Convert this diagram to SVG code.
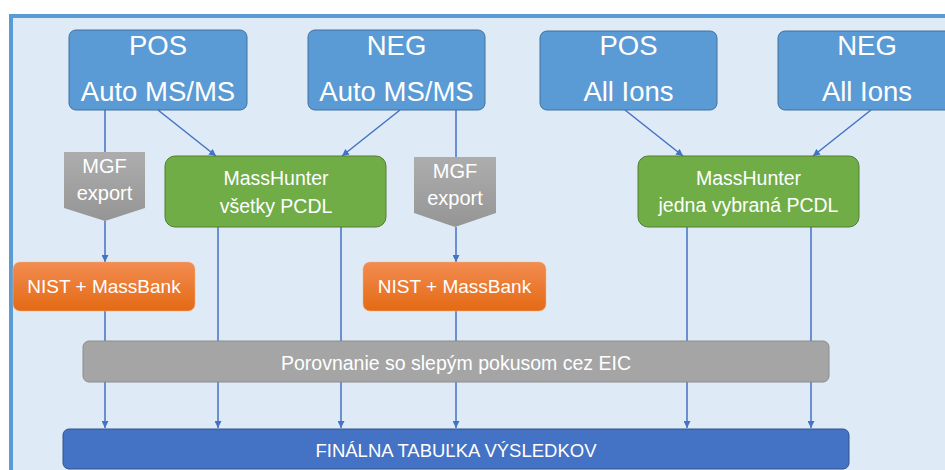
<svg xmlns="http://www.w3.org/2000/svg" width="945" height="470" viewBox="0 0 945 470">
<defs>
<linearGradient id="gGray" x1="0" y1="0" x2="0" y2="1"><stop offset="0" stop-color="#ADADAD"/><stop offset="1" stop-color="#959595"/></linearGradient>
<linearGradient id="gOrange" x1="0" y1="0" x2="0" y2="1"><stop offset="0" stop-color="#F28C51"/><stop offset="1" stop-color="#E46A14"/></linearGradient>
<marker id="arr" viewBox="0 0 10 10" refX="10" refY="5" markerWidth="7" markerHeight="7" markerUnits="userSpaceOnUse" orient="auto"><path d="M0,0 L10,5 L0,10 z" fill="#4472C4"/></marker>
</defs>
<style>
text{font-family:"Liberation Sans",Arial,sans-serif;fill:#fff;text-anchor:middle}
.top rect{fill:#5B9BD5;stroke:#41719C;stroke-width:1}
.top text{font-size:27.5px}
.green rect{fill:#70AD47;stroke:#507E32;stroke-width:1}
.green text{font-size:19.5px}
.mgf path{fill:url(#gGray)}
.mgf text{font-size:20px}
.nist rect{fill:url(#gOrange);stroke:#F4B183;stroke-width:0.5}
.nist text{font-size:19px}
.conn line{stroke:#4472C4;stroke-width:1.5;fill:none}
.arrow{marker-end:url(#arr)}
</style>
<rect x="11" y="16" width="960" height="480" fill="#DEEBF7" stroke="#5B9BD5" stroke-width="4"/>

<g id="connectors" class="conn">
<line x1="105" y1="110" x2="105" y2="152"/>
<line class="arrow" x1="105" y1="221" x2="105" y2="262"/>
<line class="arrow" x1="105" y1="311" x2="105" y2="428"/>
<line class="arrow" x1="158" y1="110" x2="216" y2="156"/>
<line class="arrow" x1="400" y1="110" x2="342" y2="156"/>
<line x1="456" y1="110" x2="456" y2="157"/>
<line class="arrow" x1="456" y1="227" x2="456" y2="262"/>
<line class="arrow" x1="456" y1="311" x2="456" y2="428"/>
<line class="arrow" x1="218" y1="227" x2="218" y2="428"/>
<line class="arrow" x1="341" y1="227" x2="341" y2="428"/>
<line class="arrow" x1="625" y1="110" x2="683" y2="156"/>
<line class="arrow" x1="871" y1="110" x2="813" y2="156"/>
<line class="arrow" x1="687" y1="227" x2="687" y2="428"/>
<line class="arrow" x1="811" y1="227" x2="811" y2="428"/>
</g>

<g id="pos-auto" class="top"><rect x="69" y="30" width="178" height="80" rx="7"/><text x="158" y="55">POS</text><text x="158" y="101">Auto MS/MS</text></g>
<g id="neg-auto" class="top"><rect x="308" y="30" width="177" height="80" rx="7"/><text x="396.5" y="55">NEG</text><text x="396.5" y="101">Auto MS/MS</text></g>
<g id="pos-all" class="top"><rect x="540" y="31" width="177" height="79" rx="7"/><text x="628.5" y="55">POS</text><text x="628.5" y="101">All Ions</text></g>
<g id="neg-all" class="top"><rect x="778" y="31" width="178" height="79" rx="7"/><text x="867" y="55">NEG</text><text x="867" y="101">All Ions</text></g>

<g id="mgf1" class="mgf"><path d="M64,152 H145 V208 L105,221 L64,208 Z"/><text x="104.5" y="173">MGF</text><text x="104.5" y="200">export</text></g>
<g id="mgf2" class="mgf"><path d="M414,157 H496 V213 L455,227 L414,213 Z"/><text x="455" y="178">MGF</text><text x="455" y="205">export</text></g>

<g id="mh1" class="green"><rect x="165" y="156" width="221" height="71" rx="10"/><text x="276" y="185">MassHunter</text><text x="276" y="213">všetky PCDL</text></g>
<g id="mh2" class="green"><rect x="638" y="156" width="221" height="71" rx="10"/><text x="748.5" y="185">MassHunter</text><text x="748.5" y="212">jedna vybraná PCDL</text></g>

<g id="nist1" class="nist"><rect x="13" y="262" width="182" height="49" rx="7"/><text x="104" y="293">NIST + MassBank</text></g>
<g id="nist2" class="nist"><rect x="363" y="262" width="183" height="49" rx="7"/><text x="454.5" y="293">NIST + MassBank</text></g>

<g id="blank"><rect x="83" y="341" width="746" height="41" rx="6" fill="#A5A5A5" stroke="#8C8C8C" stroke-width="1"/><text x="456" y="370" font-size="19.5">Porovnanie so slepým pokusom cez EIC</text></g>

<g id="final"><rect x="63" y="429" width="786" height="40" rx="6" fill="#4472C4" stroke="#2F528F" stroke-width="1"/><text x="456" y="457" font-size="18.5">FINÁLNA TABUĽKA VÝSLEDKOV</text></g>
</svg>
